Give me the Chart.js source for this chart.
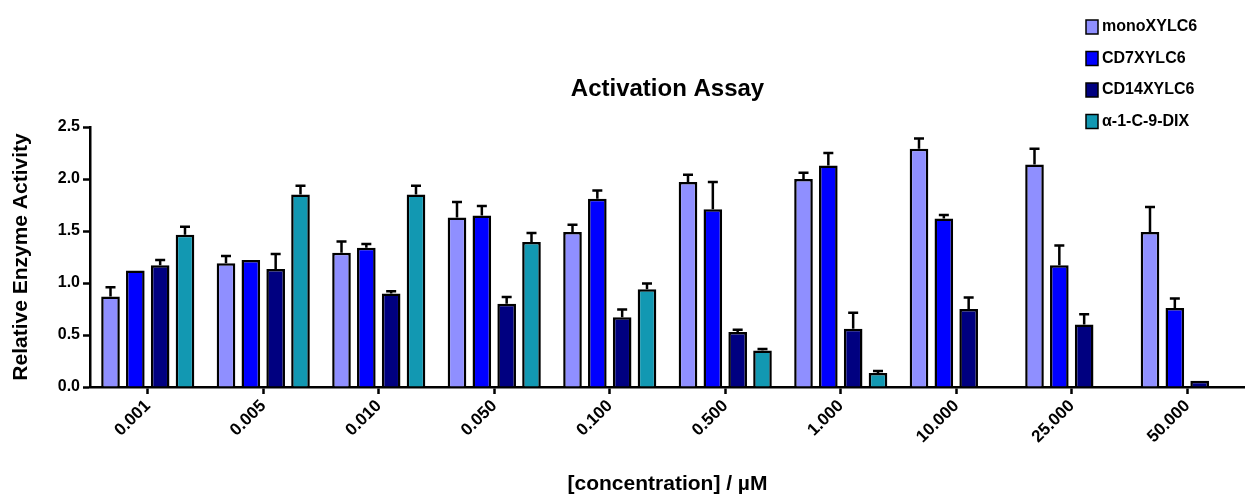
<!DOCTYPE html>
<html>
<head>
<meta charset="utf-8">
<script src="https://cdn.jsdelivr.net/npm/chart.js@4"></script>
<style>
  html, body { margin: 0; padding: 0; background: #fff; }
  #wrap { width: 1245px; height: 495px; position: relative; }
</style>
</head>
<body>
<div id="wrap"><canvas id="chart"></canvas></div>
<script>
// Activation assay — grouped bars with upward SEM bars
const concentrations = ['0.001', '0.005', '0.010', '0.050', '0.100', '0.500', '1.000', '10.000', '25.000', '50.000'];
const seriesNames = ['monoXYLC6', 'CD7XYLC6', 'CD14XYLC6', 'α-1-C-9-DIX'];

const monoXYLC6 = [0.87, 1.19, 1.29, 1.63, 1.49, 1.97, 2.00, 2.29, 2.14, 1.49];
const monoErr   = [0.09, 0.07, 0.11, 0.15, 0.07, 0.07, 0.06, 0.10, 0.15, 0.24];
const cd7XYLC6  = [1.12, 1.22, 1.34, 1.65, 1.81, 1.71, 2.13, 1.62, 1.17, 0.76];
const cd7Err    = [0, 0, 0.035, 0.09, 0.08, 0.26, 0.12, 0.035, 0.19, 0.09];
const cd14XYLC6 = [1.17, 1.135, 0.90, 0.80, 0.67, 0.53, 0.56, 0.75, 0.60, 0.06];
const cd14Err   = [0.05, 0.145, 0.02, 0.065, 0.075, 0.02, 0.155, 0.11, 0.10, 0];
const dixValues = [1.465, 1.85, 1.85, 1.395, 0.94, 0.35, 0.135, null, null, null];
const dixErr    = [0.075, 0.085, 0.085, 0.085, 0.055, 0.015, 0.02, null, null, null];

const yTicks = [0, 0.5, 1.0, 1.5, 2.0, 2.5];
const chartTitle = 'Activation Assay';

const colors = ['#8f8fff', '#0000ff', '#000080', '#1298b2'];
const FONT = "'Liberation Sans', Arial, sans-serif";

const errorBars = {
  id: 'errorBars',
  afterDatasetsDraw(chart) {
    const { ctx } = chart;
    const y = chart.scales.y;
    ctx.save();
    ctx.strokeStyle = '#000';
    ctx.lineWidth = 2.5;
    chart.data.datasets.forEach((ds, i) => {
      const meta = chart.getDatasetMeta(i);
      meta.data.forEach((bar, j) => {
        const v = ds.data[j], e = ds.errors[j];
        if (v == null || !e) return;
        const top = y.getPixelForValue(v + e);
        ctx.beginPath();
        ctx.moveTo(bar.x, bar.y);
        ctx.lineTo(bar.x, top);
        ctx.moveTo(bar.x - 5, top);
        ctx.lineTo(bar.x + 5, top);
        ctx.stroke();
      });
    });
    ctx.restore();
  },
};

// title centred over the plot area + legend stacked at top right
const headings = {
  id: 'headings',
  afterDraw(chart) {
    const { ctx, chartArea } = chart;
    ctx.save();
    ctx.fillStyle = '#000';
    ctx.textBaseline = 'middle';
    ctx.textAlign = 'center';
    ctx.font = 'bold 24px ' + FONT;
    ctx.fillText(chartTitle, (chartArea.left + chartArea.right) / 2, 89);

    ctx.textAlign = 'left';
    ctx.font = 'bold 16px ' + FONT;
    chart.data.datasets.forEach((ds, i) => {
      const cy = 27 + i * 31.5;
      ctx.fillStyle = ds.backgroundColor;
      ctx.fillRect(1086, cy - 7, 12, 14);
      ctx.strokeStyle = '#000';
      ctx.lineWidth = 1.5;
      ctx.strokeRect(1086, cy - 7, 12, 14);
      ctx.fillStyle = '#000';
      ctx.fillText(ds.label, 1102, cy);
    });
    ctx.restore();
  },
};

const seriesData = [monoXYLC6, cd7XYLC6, cd14XYLC6, dixValues];
const seriesErr = [monoErr, cd7Err, cd14Err, dixErr];

new Chart(document.getElementById('chart'), {
  type: 'bar',
  data: {
    labels: concentrations,
    datasets: seriesNames.map((name, i) => ({
      label: name,
      data: seriesData[i],
      errors: seriesErr[i],
      backgroundColor: colors[i],
      borderColor: '#000',
      borderWidth: 2.5,
      borderSkipped: 'bottom',
      categoryPercentage: 0.86,
      barPercentage: 0.75,
    })),
  },
  options: {
    responsive: true,
    maintainAspectRatio: false,
    animation: false,
    layout: { padding: { left: 0, right: 0, top: 127, bottom: 0 } },
    plugins: {
      legend: { display: false },
      tooltip: { enabled: false },
      title: { display: false },
    },
    scales: {
      x: {
        offset: true,
        afterFit: (s) => { s.height = 108; },
        grid: { drawOnChartArea: false, offset: false, tickLength: 7, tickWidth: 2.5, tickColor: '#000' },
        border: { display: true, color: '#000', width: 2.5 },
        ticks: {
          color: '#000', maxRotation: 45, minRotation: 45, padding: 2,
          font: { family: FONT, size: 17, weight: 'bold' },
        },
        title: {
          display: true, text: '[concentration] / µM', color: '#000',
          font: { family: FONT, size: 21, weight: 'bold', lineHeight: 1 },
          padding: { top: 0, bottom: 0 },
        },
      },
      y: {
        min: 0, max: 2.5,
        afterFit: (s) => { s.width = 90; },
        afterBuildTicks: (s) => { s.ticks = yTicks.map((v) => ({ value: v })); },
        grid: { drawOnChartArea: false, tickLength: 7, tickWidth: 2.5, tickColor: '#000' },
        border: { display: true, color: '#000', width: 2.5 },
        ticks: {
          color: '#000', padding: 3,
          font: { family: FONT, size: 16, weight: 'bold' },
          callback: (v) => Number(v).toFixed(1),
        },
        title: {
          display: true, text: 'Relative Enzyme Activity', color: '#000',
          font: { family: FONT, size: 21, weight: 'bold', lineHeight: 1.2 },
          padding: { top: 9, bottom: 0 },
        },
      },
    },
  },
  plugins: [errorBars, headings],
});
</script>
</body>
</html>
